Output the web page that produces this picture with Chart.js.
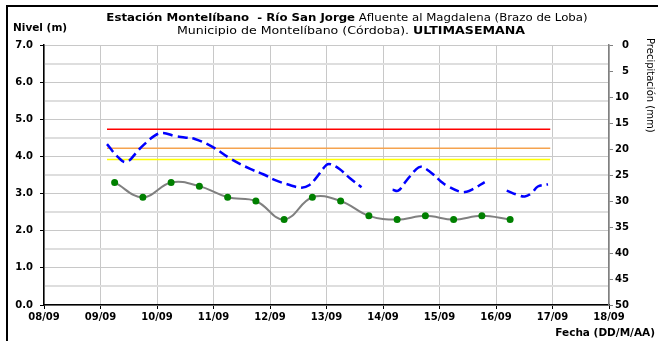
<!DOCTYPE html>
<html>
<head>
<meta charset="utf-8">
<script src="https://cdn.jsdelivr.net/npm/chart.js@4.4.1/dist/chart.umd.min.js"></script>
<style>
  html, body { margin: 0; padding: 0; background: #fff; overflow: hidden; }
  #wrap { position: relative; width: 658px; height: 341px; }
  #frame { position: absolute; left: 6px; top: 5px; width: 700px; height: 400px; border-left: 2px solid #000; border-top: 2px solid #000; }
  canvas { position: absolute; left: 0; top: 0; }
</style>
</head>
<body>
<div id="wrap">
  <div id="frame"></div>
  <canvas id="nivelChart" width="658" height="341"></canvas>
</div>
<script>
  // eje X en días contados desde 08/09
  const dayLabels = ["08/09", "09/09", "10/09", "11/09", "12/09", "13/09", "14/09", "15/09", "16/09", "17/09", "18/09"];

  // lecturas de mira (06:00 y 18:00)
  const obsDays = [1.25, 1.75, 2.25, 2.75, 3.25, 3.75, 4.25, 4.75, 5.25, 5.75, 6.25, 6.75, 7.25, 7.75, 8.25];
  const obsLevels = [3.3, 2.9, 3.3, 3.2, 2.9, 2.8, 2.3, 2.9, 2.8, 2.4, 2.3, 2.4, 2.3, 2.4, 2.3];

  // sensor automático (null = sin dato)
  const autoDays = [1.115, 1.31, 1.46, 1.69, 1.96, 2.11, 2.31, 2.49, 2.67, 2.99, 3.29, 3.64, 3.88, 4.08, 4.35, 4.56, 4.70, 4.81,
    5.00, 5.07, 5.23, 5.41, 5.62, 5.9, 6.17, 6.27, 6.38, 6.59, 6.68, 6.83, 7.03, 7.12, 7.36, 7.48, 7.59, 7.80, 7.95,
    8.19, 8.39, 8.51, 8.63, 8.74, 8.92];
  const autoLevels = [4.33, 3.98, 3.85, 4.2, 4.56, 4.63, 4.55, 4.51, 4.47, 4.25, 3.95, 3.67, 3.52, 3.37, 3.23, 3.16, 3.23, 3.41,
    3.77, 3.79, 3.66, 3.42, 3.17, null, 3.10, 3.08, 3.28, 3.66, 3.72, 3.59, 3.32, 3.22, 3.05, 3.05, 3.12, 3.31, null,
    3.08, 2.96, 2.92, 3.01, 3.19, 3.25];

  // umbrales de alerta (m)
  const alertStart = 1.115;
  const alertEnd = 8.96;
  const alertRed = 4.73;
  const alertOrange = 4.22;
  const alertYellow = 3.92;

  const levelTicks = { min: 0, max: 7, step: 0.5 };
  const rainTicks = { min: 0, max: 50, step: 5 };

  const FONT = "'DejaVu Sans', 'Liberation Sans', sans-serif";

  const toPoints = (xs, ys) => xs.map((x, i) => ({ x, y: ys[i] }));
  const flat = (y) => [{ x: alertStart, y }, { x: alertEnd, y }];

  const textPlugin = {
    id: "chartTexts",
    afterDraw(chart) {
      const ctx = chart.ctx;
      ctx.save();
      ctx.fillStyle = "#000";
      ctx.textBaseline = "alphabetic";

      // título en dos líneas con partes en negrita, algo ensanchado
      const drawMixed = (parts, cx, y, stretch) => {
        const widths = parts.map(([txt, bold]) => {
          ctx.font = `${bold ? "bold " : ""}10.5px ${FONT}`;
          return ctx.measureText(txt).width;
        });
        const total = widths.reduce((a, b) => a + b, 0);
        ctx.save();
        ctx.translate(cx, y);
        ctx.scale(stretch, 1);
        let x = -total / 2;
        ctx.textAlign = "left";
        parts.forEach(([txt, bold], i) => {
          ctx.font = `${bold ? "bold " : ""}10.5px ${FONT}`;
          ctx.fillText(txt, x, 0);
          x += widths[i];
        });
        ctx.restore();
      };
      drawMixed([["Estación Montelíbano  - Río San Jorge", true], [" Afluente al Magdalena (Brazo de Loba)", false]], 347, 20.5, 1.12);
      drawMixed([["Municipio de Montelíbano (Córdoba). ", false], ["ULTIMASEMANA", true]], 351, 33.5, 1.2);

      ctx.font = `bold 10.5px ${FONT}`;
      ctx.textAlign = "left";
      ctx.fillText("Nivel (m)", 13, 31);

      ctx.textAlign = "right";
      ctx.font = `bold 10.5px ${FONT}`;
      ctx.fillText("Fecha (DD/M/AA)", 655, 336);

      ctx.translate(650, 38);
      ctx.rotate(Math.PI / 2);
      ctx.textAlign = "left";
      ctx.textBaseline = "middle";
      ctx.font = `10px ${FONT}`;
      ctx.fillText("Precipitación (mm)", 0, 0);
      ctx.restore();
    },
  };

  const isWhole = (v) => Math.abs(v - Math.round(v)) < 1e-6;

  new Chart(document.getElementById("nivelChart"), {
    type: "line",
    data: {
      datasets: [
        {
          label: "Nivel mira",
          data: toPoints(obsDays, obsLevels),
          borderColor: "#808080",
          borderWidth: 2,
          pointRadius: 2.5,
          pointBackgroundColor: "#008000",
          pointBorderColor: "#008000",
          tension: 0.4,
          order: 0,
        },
        {
          label: "Nivel sensor",
          data: toPoints(autoDays, autoLevels),
          borderColor: "#0000ff",
          borderWidth: 2.5,
          borderDash: [10, 5],
          pointRadius: 0,
          tension: 0.4,
          spanGaps: false,
          order: 1,
        },
        { label: "Alerta roja", data: flat(alertRed), borderColor: "#ff0000", borderWidth: 1.5, pointRadius: 0, order: 2 },
        { label: "Alerta naranja", data: flat(alertOrange), borderColor: "#f5a34f", borderWidth: 1.5, pointRadius: 0, order: 2 },
        { label: "Alerta amarilla", data: flat(alertYellow), borderColor: "#ffff00", borderWidth: 1.5, pointRadius: 0, order: 2 },
      ],
    },
    options: {
      responsive: false,
      animation: false,
      devicePixelRatio: 1,
      layout: { padding: { top: 45, left: 0, right: 29, bottom: 0 } },
      plugins: { legend: { display: false }, tooltip: { enabled: false }, title: { display: false } },
      scales: {
        x: {
          type: "linear",
          position: "bottom",
          min: 0,
          max: dayLabels.length - 1,
          afterFit: (s) => { s.height = 36; },
          afterBuildTicks: (s) => { s.ticks = dayLabels.map((_, i) => ({ value: i })); },
          ticks: {
            stepSize: 1,
            autoSkip: false,
            maxRotation: 0,
            padding: 2,
            color: "#000",
            font: { family: FONT, size: 10, weight: "bold" },
            callback: (v) => dayLabels[v],
          },
          grid: { color: "#c8c8c8", lineWidth: 1, tickLength: 4, tickColor: "#000" },
          border: { color: "#000", width: 1.5 },
        },
        y: {
          position: "left",
          min: levelTicks.min,
          max: levelTicks.max,
          afterFit: (s) => { s.width = 44; },
          ticks: {
            stepSize: levelTicks.step,
            padding: 7,
            color: "#000",
            font: { family: FONT, size: 10, weight: "bold" },
            callback: (v) => (isWhole(v) ? v.toFixed(1) : ""),
          },
          grid: {
            color: (c) => (c.tick && isWhole(c.tick.value) ? "#c8c8c8" : "#dedede"),
            lineWidth: (c) => (c.tick && isWhole(c.tick.value) ? 1 : 2),
            tickLength: 4,
            tickColor: (c) => (c.tick && isWhole(c.tick.value) ? "#000" : "rgba(0,0,0,0)"),
          },
          border: { color: "#000", width: 1.5 },
        },
        y2: {
          position: "right",
          reverse: true,
          min: rainTicks.min,
          max: rainTicks.max,
          afterFit: (s) => { s.width = 20; },
          ticks: {
            stepSize: rainTicks.step,
            crossAlign: "far",
            padding: 3,
            color: "#000",
            font: { family: FONT, size: 10, weight: "bold" },
          },
          grid: { drawOnChartArea: false, tickLength: 4, tickColor: "#808080" },
          border: { color: "#808080", width: 1.5 },
        },
      },
    },
    plugins: [textPlugin],
  });
</script>
</body>
</html>
